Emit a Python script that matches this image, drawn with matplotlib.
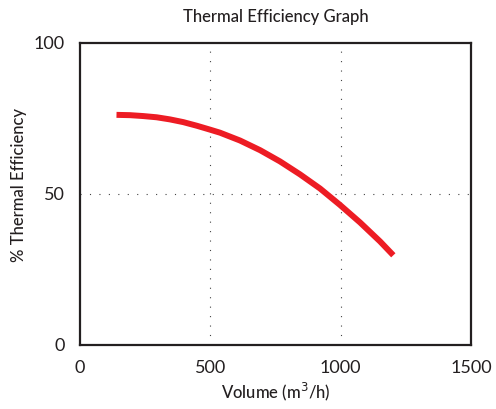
import matplotlib.pyplot as plt

# values
volume = [140, 192, 243, 294, 345, 396, 448, 499, 537, 614, 691, 767,
          844, 921, 997, 1074, 1151, 1202]
efficiency = [76.2, 76.1, 75.8, 75.4, 74.7, 73.8, 72.6, 71.3, 70.3, 67.7,
              64.5, 60.8, 56.5, 51.8, 46.4, 40.6, 34.3, 29.7]

x_ticks = [0, 500, 1000, 1500]
y_ticks = [0, 50, 100]

plt.rcParams['font.family'] = ['Lato', 'DejaVu Sans']

fig = plt.figure(figsize=(4.96, 4.09), dpi=100)
ax = fig.add_axes([0.1613, 0.1565, 0.7883, 0.7384])

ax.plot(volume, efficiency, color='#ED1C24', linewidth=4.3,
        solid_capstyle='butt', solid_joinstyle='round')

ax.set_xlim(0, 1500)
ax.set_ylim(0, 100)
ax.set_xticks(x_ticks)
ax.set_yticks(y_ticks)
ax.tick_params(length=0, labelsize=13, colors='#231F20', pad=11)

for v in [500, 1000]:
    ax.axvline(v, color='#444444', linewidth=0.8, linestyle=(0, (1, 7.5)), zorder=0)
ax.axhline(50, color='#444444', linewidth=0.8, linestyle=(0, (1, 7.5)), zorder=0)

for s in ax.spines.values():
    s.set_linewidth(1.6)
    s.set_color('#231F20')

ax.set_title('Thermal Efficiency Graph', fontsize=12, color='#231F20', pad=15,
             fontweight='medium')
ax.set_xlabel('Volume (m$^3$/h)', fontsize=12, color='#231F20', labelpad=3,
              fontweight='medium')
ax.set_ylabel('% Thermal Efficiency', fontsize=12, color='#231F20',
              fontweight='medium')
ax.yaxis.set_label_coords(-0.135, 0.53)

fig.savefig('out.png', dpi=100)
